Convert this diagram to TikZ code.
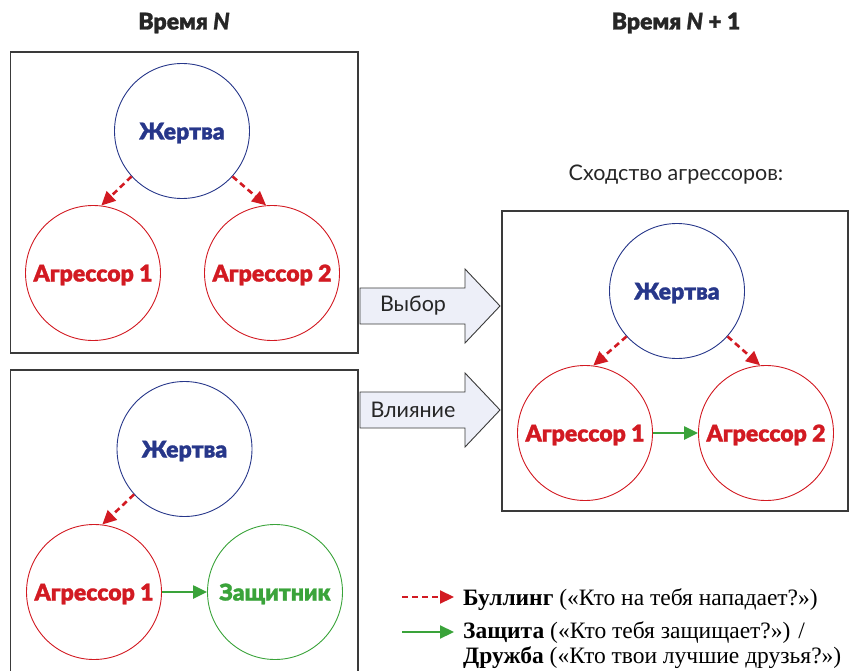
\documentclass[tikz,border=0pt]{standalone}
\usepackage{fontspec}
\setmainfont{Liberation Serif}
\newfontfamily\lblfont{Lato Black}[RawFeature={embolden=1.2}]
\newfontfamily\regfont{Lato}
\usetikzlibrary{arrows.meta}
\definecolor{vblue}{HTML}{27378A}
\definecolor{ared}{HTML}{D21A22}
\definecolor{dgreen}{HTML}{3AA33A}
\definecolor{boxgray}{HTML}{3A3A3A}
\definecolor{arrfill}{HTML}{EDEFF8}
\tikzset{
  panel/.style={draw=boxgray, line width=1.1pt},
  circ/.style={circle, minimum size=135pt, inner sep=0pt, line width=0.9pt, text height=20pt, text depth=3pt, font=\lblfont\fontsize{23}{27}\selectfont},
  victim/.style={circ, draw=vblue, text=vblue},
  aggr/.style={circ, draw=ared, text=ared},
  defender/.style={circ, draw=dgreen, text=dgreen},
  bully/.style={draw=ared, line width=2.6pt, dash pattern=on 6pt off 4pt, -{Triangle[length=14pt,width=13pt]}},
  defend/.style={draw=dgreen, line width=2.4pt, -{Triangle[length=14pt,width=13pt]}},
  blockarrow/.style={draw=boxgray, fill=arrfill, line width=0.9pt},
  title/.style={font=\lblfont\fontsize{23}{27}\selectfont, text=black!85},
  plain/.style={font=\regfont\fontsize{21.5}{25}\selectfont, text=black!85},
  legend/.style={font=\fontsize{23.5}{26}\selectfont, anchor=base west, inner sep=0pt},
}
\begin{document}
\begin{tikzpicture}[x=1pt,y=-1pt]
\useasboundingbox (0,0) rectangle (851,671);
% titles
\node[title] (t1) at (184,23) {Время \textit{N}};
\node[title] (t2) at (676,23) {Время \textit{N} + 1};
% panels
\draw[panel] (10.5,52) rectangle (358,353);
\draw[panel] (10.5,370) rectangle (358,690);
\draw[panel] (502,211) rectangle (848,511);
% top-left panel
\node[victim] (v1) at (182,131) {Жертва};
\node[aggr] (a11) at (93,273) {Агрессор 1};
\node[aggr] (a12) at (272,273) {Агрессор 2};
\draw[bully] (v1.222) -- (a11.83);
\draw[bully] (v1.318) -- (a12.95);
% bottom-left panel
\node[victim] (v2) at (184.5,449) {Жертва};
\node[aggr] (a21) at (94,592) {Агрессор 1};
\node[defender] (d2) at (275,592) {Защитник};
\draw[bully] (v2.222) -- (a21.83);
\draw[defend] (a21.east) -- (d2.west);
% right panel
\node[plain] (sim) at (676,175) {Сходство агрессоров:};
\node[victim] (v3) at (677,291) {Жертва};
\node[aggr] (a31) at (585,433) {Агрессор 1};
\node[aggr] (a32) at (766,433) {Агрессор 2};
\draw[bully] (v3.222) -- (a31.83);
\draw[bully] (v3.318) -- (a32.95);
\draw[defend] (a31.east) -- (a32.west);
% block arrows
\draw[blockarrow] (360,288) -- (465,288) -- (465,269) -- (500,306) -- (465,343) -- (465,324) -- (360,324) -- cycle;
\node[plain] (choice) at (413,306) {Выбор};
\draw[blockarrow] (360,392) -- (465,392) -- (465,373) -- (500,410) -- (465,447) -- (465,428) -- (360,428) -- cycle;
\node[plain] (infl) at (413,410) {Влияние};
% legend
\coordinate (lb1) at (402,597);
\coordinate (lb2) at (454,597);
\draw[bully, line width=2.2pt] (lb1) -- (lb2);
\coordinate (lg1) at (402,632);
\coordinate (lg2) at (454,632);
\draw[defend, line width=2.2pt] (lg1) -- (lg2);
\node[legend] (l1) at (463,605) {\textbf{Буллинг} («Кто на тебя нападает?»)};
\node[legend] (l2) at (463,638.5) {\textbf{Защита} («Кто тебя защищает?») /};
\node[legend] (l3) at (463,663.5) {\textbf{Дружба} («Кто твои лучшие друзья?»)};
\end{tikzpicture}
\end{document}
